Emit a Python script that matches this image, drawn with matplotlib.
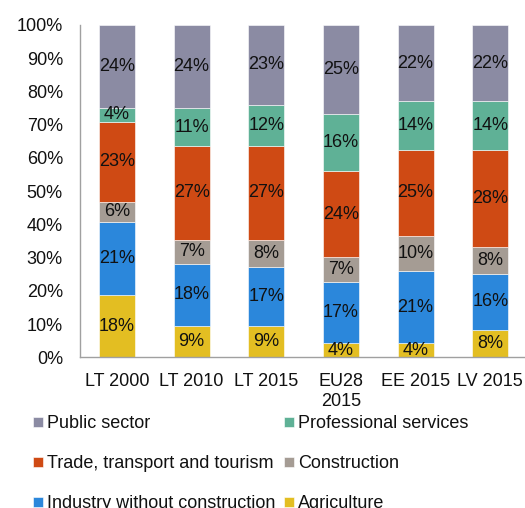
import matplotlib
matplotlib.use("Agg")
import matplotlib.pyplot as plt
import numpy as np

plt.rcParams['font.family'] = ['Liberation Sans', 'DejaVu Sans']

categories = ["LT 2000", "LT 2010", "LT 2015", "EU28\n2015", "EE 2015", "LV 2015"]
agriculture = [18, 9, 9, 4, 4, 8]
industry = [21, 18, 17, 17, 21, 16]
construction = [6, 7, 8, 7, 10, 8]
trade = [23, 27, 27, 24, 25, 28]
professional = [4, 11, 12, 16, 14, 14]
public = [24, 24, 23, 25, 22, 22]

series = [
    ("Agriculture", agriculture, "#E3BE22"),
    ("Industry without construction", industry, "#2B87DB"),
    ("Construction", construction, "#A59C94"),
    ("Trade, transport and tourism", trade, "#CF4A14"),
    ("Professional services", professional, "#5FB196"),
    ("Public sector", public, "#8B8BA3"),
]

FS = 13
W, H = 525, 508
fig = plt.figure(figsize=(W / 100, H / 100), dpi=100)
ax = fig.add_axes([79.6 / W, 150.7 / H, (527.6 - 79.6) / W, (357.3 - 25) / H])

x = np.arange(len(categories))
totals = np.sum([s[1] for s in series], axis=0).astype(float)
bottom = np.zeros(len(categories))
handles = {}
for name, vals, color in series:
    vals = np.array(vals, dtype=float)
    pct = vals / totals * 100
    b = ax.bar(x, pct, 0.48, bottom=bottom, color=color, edgecolor="#ffffff",
               linewidth=0.4, label=name)
    handles[name] = b
    for xi, bi, pi, v in zip(x, bottom, pct, vals):
        ax.text(xi, bi + pi / 2, f"{int(round(v))}%", ha="center", va="center",
                fontsize=FS, color="#111111")
    bottom += pct

ax.set_xlim(-0.5, len(categories) - 0.5)
ax.set_ylim(0, 100)
ax.set_yticks(np.arange(0, 101, 10))
ax.set_yticklabels([f"{v}%" for v in range(0, 101, 10)])
ax.set_xticks(x)
ax.set_xticklabels(categories)
ax.tick_params(axis="both", length=0, labelsize=FS, colors="#111111")
ax.tick_params(axis="y", pad=12)
ax.tick_params(axis="x", pad=11)
for lbl in ax.get_xticklabels():
    lbl.set_linespacing(1.25)
for side in ["top", "right"]:
    ax.spines[side].set_visible(False)
for side in ["left", "bottom"]:
    ax.spines[side].set_color("#A0A0A0")
    ax.spines[side].set_linewidth(1.0)

order = ["Public sector", "Trade, transport and tourism", "Industry without construction",
         "Professional services", "Construction", "Agriculture"]
leg = fig.legend([handles[n] for n in order], order, ncol=2, loc="upper left",
                 bbox_to_anchor=(33 / W, 1 - 415.5 / H), frameon=False,
                 fontsize=FS, handlelength=0.55, handleheight=0.5,
                 handletextpad=0.25, columnspacing=0.45, labelspacing=1.27,
                 borderpad=0, borderaxespad=0)
for t in leg.get_texts():
    t.set_color("#111111")

fig.savefig("out.png", dpi=100)
